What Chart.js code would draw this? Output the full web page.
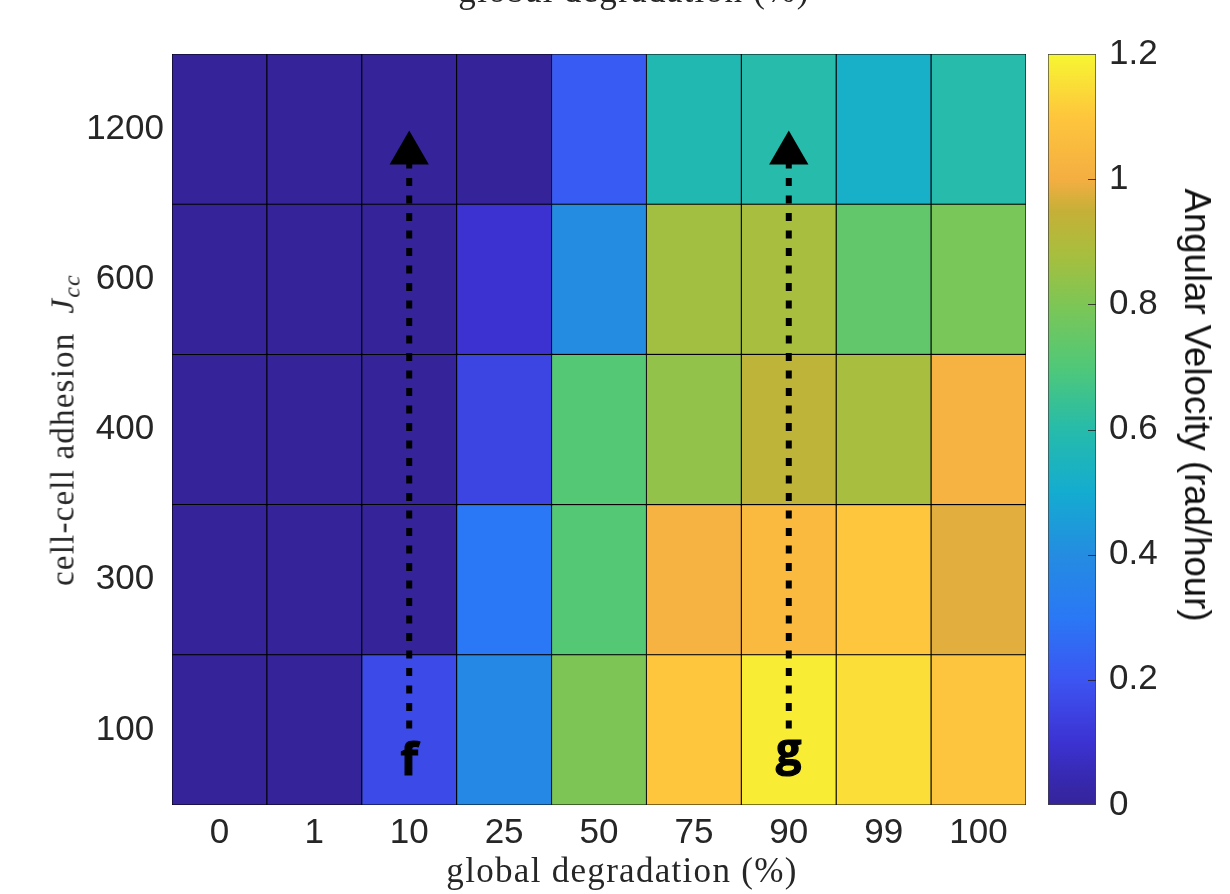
<!DOCTYPE html>
<html>
<head>
<meta charset="utf-8">
<script src="https://cdn.jsdelivr.net/npm/chart.js@4"></script>
<style>
  html, body { margin: 0; padding: 0; background: #fff; width: 1230px; height: 894px; overflow: hidden; }
  canvas { position: absolute; top: 0; }
  #heat-wrap { position: absolute; left: 0; top: 0; width: 1040px; height: 894px; }
  #bar-wrap { position: absolute; left: 1040px; top: 0; width: 190px; height: 894px; }
  .txt { position: absolute; white-space: nowrap; color: #262626; transform: translate(-50%, -50%); }
  .serif { font-family: "Liberation Serif", serif; font-size: 35px; letter-spacing: 1.3px; }
  .y-title { transform: translate(-50%, -50%) rotate(-90deg); font-size: 33px; letter-spacing: 1.2px; }
  .y-title sub { font-size: 24px; vertical-align: -6px; line-height: 0; }
  .cb-title { font-family: "Liberation Sans", sans-serif; font-size: 36.6px; color: #111; transform: translate(-50%, -50%) rotate(90deg); }
</style>
</head>
<body>
<div id="heat-wrap"><canvas id="heat"></canvas></div>
<div id="bar-wrap"><canvas id="colorbar"></canvas></div>
<div class="txt serif" style="left:634px;top:-9px">global degradation (%)</div>
<div class="txt serif" style="left:622px;top:871px">global degradation (%)</div>
<div class="txt serif y-title" style="left:63px;top:430px">cell-cell adhesion&nbsp; <i>J<sub>cc</sub></i></div>
<div class="txt cb-title" style="left:1197px;top:405px">Angular Velocity (rad/hour)</div>
<script>
const degradation = ['0', '1', '10', '25', '50', '75', '90', '99', '100'];
const adhesion = ['100', '300', '400', '600', '1200'];

const velocity100 = [0, 0, 0.17, 0.38, 0.8, 1.1, 1.18, 1.15, 1.09];
const velocity300 = [0, 0, 0, 0.3, 0.71, 1.02, 1.05, 1.1, 0.98];
const velocity400 = [0, 0, 0, 0.15, 0.71, 0.84, 0.93, 0.88, 1.02];
const velocity600 = [0, 0, 0, 0.1, 0.4, 0.87, 0.88, 0.74, 0.79];
const velocity1200 = [0, 0, 0, 0, 0.22, 0.58, 0.6, 0.52, 0.6];
const velocityRows = [velocity100, velocity300, velocity400, velocity600, velocity1200];

const colorbarTicks = [0, 0.2, 0.4, 0.6, 0.8, 1, 1.2];

// arrows run upward in a column, from value to value on the row axis
const arrowColumns = ['10', '90'];
const arrowNames = ['f', 'g'];
const arrowFrom = 0.51;
const arrowTo = 4.34;
const nameAt = 0.316;

// colormap
const mapValues = [0, 0.05, 0.1, 0.2, 0.3, 0.4, 0.5, 0.6, 0.7, 0.8, 0.88, 0.95, 1, 1.1, 1.2];
const mapColors = [
  [53, 36, 153], [55, 42, 180], [60, 50, 210], [60, 85, 242], [42, 120, 245], [36, 140, 225],
  [20, 172, 208], [38, 187, 170], [80, 200, 120], [125, 198, 85], [168, 190, 62], [198, 176, 55],
  [244, 174, 66], [254, 198, 60], [247, 246, 50]
];

function colorFor(v) {
  let i = 0;
  while (i < mapValues.length - 2 && v > mapValues[i + 1]) i++;
  const t = (v - mapValues[i]) / (mapValues[i + 1] - mapValues[i]);
  const c = mapColors[i].map((a, k) => Math.round(a + (mapColors[i + 1][k] - a) * t));
  return 'rgb(' + c.join(',') + ')';
}

function fixWidth(w) { return s => { s.width = w; }; }
function fixHeight(h) { return s => { s.height = h; }; }

const tickFont = { family: '"Liberation Sans", sans-serif', size: 35 };

const cellSets = velocityRows.map((row, r) => ({
  type: 'bar',
  data: row.map(() => [r, r + 1]),
  backgroundColor: row.map(colorFor),
  borderColor: '#000',
  borderWidth: 0.9,
  borderSkipped: false,
  grouped: false,
  barPercentage: 1,
  categoryPercentage: 1,
  order: 2
}));

const arrowSets = arrowColumns.map(col => ({
  type: 'line',
  data: [{ x: col, y: arrowFrom }, { x: col, y: arrowTo }],
  borderColor: '#000',
  borderWidth: 6,
  borderDash: [8, 9.5],
  pointStyle: 'triangle',
  pointRadius: [0, 22.7],
  pointBackgroundColor: '#000',
  pointBorderWidth: 0,
  order: 1
}));

const arrowNamePlugin = {
  id: 'arrowNames',
  afterDatasetsDraw(chart) {
    const { ctx, scales } = chart;
    ctx.save();
    ctx.fillStyle = '#000';
    ctx.strokeStyle = '#000';
    ctx.lineWidth = 1.2;
    ctx.font = 'bold 45px "Open Sans"';
    ctx.textAlign = 'center';
    ctx.textBaseline = 'alphabetic';
    arrowNames.forEach((n, i) => {
      const m = ctx.measureText(n);
      const mid = scales.y.getPixelForValue(nameAt);
      // centre on the glyph's own box so f and g line up like the original
      const y = mid + (m.actualBoundingBoxAscent - m.actualBoundingBoxDescent) / 2;
      const x = scales.x.getPixelForValue(degradation.indexOf(arrowColumns[i]));
      ctx.fillText(n, x, y);
      ctx.strokeText(n, x, y);
    });
    ctx.restore();
  }
};

new Chart(document.getElementById('heat'), {
  data: { labels: degradation, datasets: [...cellSets, ...arrowSets] },
  plugins: [arrowNamePlugin],
  options: {
    responsive: true,
    maintainAspectRatio: false,
    animation: false,
    // the arrow heads would otherwise reserve their radius around the plot
    layout: { autoPadding: false, padding: { left: 0, top: 54, right: 14, bottom: 0 } },
    plugins: { legend: { display: false }, tooltip: { enabled: false } },
    scales: {
      x: {
        type: 'category',
        grid: { display: false, drawTicks: false },
        border: { display: false },
        ticks: { font: tickFont, color: '#262626', padding: 7, maxRotation: 0, autoSkip: false },
        afterFit: fixHeight(89)
      },
      y: {
        type: 'linear',
        min: 0,
        max: 5,
        grid: { display: false, drawTicks: false },
        border: { display: false },
        afterBuildTicks: s => { s.ticks = adhesion.map((a, i) => ({ value: i + 0.5 })); },
        ticks: {
          font: tickFont, color: '#262626', padding: 8, crossAlign: 'center',
          callback: v => adhesion[v - 0.5]
        },
        afterFit: fixWidth(172)
      }
    }
  }
});

function barGradient(ctx) {
  const { chart } = ctx;
  if (!chart.chartArea) return '#000';
  const y = chart.scales.y;
  const g = chart.ctx.createLinearGradient(0, y.getPixelForValue(0), 0, y.getPixelForValue(1.2));
  mapValues.forEach((v, i) => g.addColorStop(v / 1.2, colorFor(v)));
  return g;
}

const insideTicks = {
  id: 'insideTicks',
  afterDatasetsDraw(chart) {
    const { ctx, chartArea, scales } = chart;
    ctx.save();
    ctx.strokeStyle = 'rgba(30,30,30,0.8)';
    ctx.lineWidth = 1;
    colorbarTicks.slice(1, -1).forEach(v => {
      const py = Math.round(scales.y.getPixelForValue(v)) + 0.5;
      ctx.beginPath();
      ctx.moveTo(chartArea.right - 8, py);
      ctx.lineTo(chartArea.right, py);
      ctx.stroke();
    });
    ctx.restore();
  }
};

new Chart(document.getElementById('colorbar'), {
  type: 'bar',
  data: {
    labels: ['Angular Velocity (rad/hour)'],
    datasets: [{
      data: [[colorbarTicks[0], colorbarTicks[colorbarTicks.length - 1]]],
      backgroundColor: barGradient,
      borderColor: 'rgba(30,30,30,0.85)',
      borderWidth: 1,
      borderSkipped: false,
      barPercentage: 1,
      categoryPercentage: 1
    }]
  },
  plugins: [insideTicks],
  options: {
    responsive: true,
    maintainAspectRatio: false,
    animation: false,
    layout: { padding: { left: 8, top: 54, right: 0, bottom: 89 } },
    plugins: { legend: { display: false }, tooltip: { enabled: false } },
    scales: {
      x: { display: false },
      y: {
        position: 'right',
        min: 0,
        max: 1.2,
        grid: { display: false, drawTicks: false },
        border: { display: false },
        afterBuildTicks: s => { s.ticks = colorbarTicks.map(v => ({ value: v })); },
        ticks: { font: tickFont, color: '#262626', padding: 13, callback: v => String(v) },
        afterFit: fixWidth(134)
      }
    }
  }
});
</script>
</body>
</html>
